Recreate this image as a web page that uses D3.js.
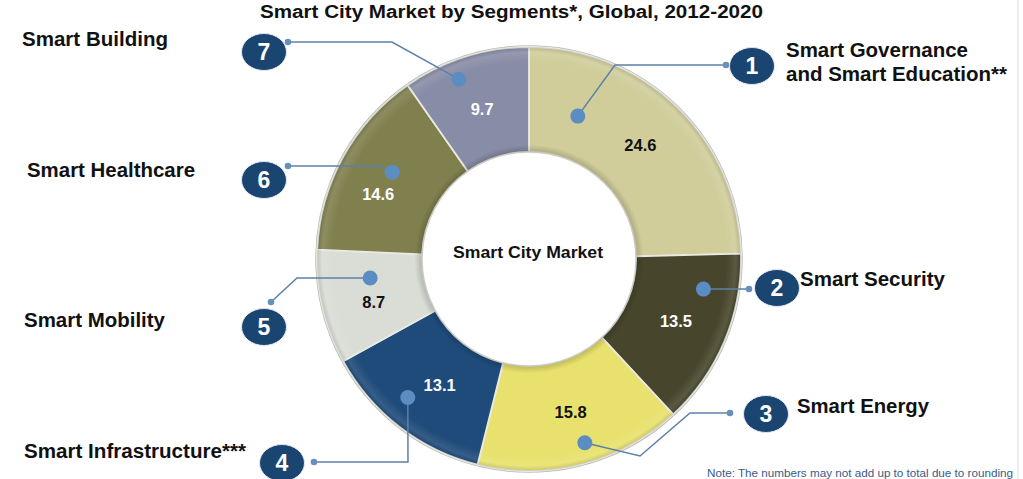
<!DOCTYPE html>
<html><head><meta charset="utf-8">
<script src="https://cdn.jsdelivr.net/npm/d3@7"></script>
<style>html,body{margin:0;padding:0;background:#fff;overflow:hidden}</style>
</head><body>
<svg id="chart" width="1023" height="479"></svg>
<script>
// ---- data ----
const segmentNames = ["Smart Governance and Smart Education**", "Smart Security", "Smart Energy", "Smart Infrastructure***", "Smart Mobility", "Smart Healthcare", "Smart Building"];
const segmentValues = [24.6, 13.5, 15.8, 13.1, 8.7, 14.6, 9.7];
const badgeLabels = ["1", "2", "3", "4", "5", "6", "7"];
const segmentColors = ["#d0cd9a", "#47462c", "#e8e16d", "#1f4b7a", "#d9ddd6", "#80804f", "#888da7"];
const valueTextColors = ["#111", "#fff", "#111", "#fff", "#111", "#fff", "#fff"];
const titleText = "Smart City Market by Segments*, Global, 2012-2020";
const centerText = "Smart City Market";

// ---- layout (annotation placement) ----
const cx = 529, cy = 259, rOuter = 212, rInner = 107;
// small nudges of the value labels from the slice centroid
const valueNudge = [[0, 0], [0, 0], [2, -1], [8, 0], [0, 7], [-11, 12], [1, 2]];
// dot: fraction of the slice angle and radius; path: elbow points; badge center; label lines
const callouts = [
  {f: 0.213, r: 151, path: [[615, 65], [726, 65]], badge: [752, 66],
   label: [{t: "Smart Governance", x: 786, y: 57, w: 182}, {t: "and Smart Education**", x: 786, y: 81, w: 221}]},
  {f: 0.231, r: 177, path: [[749, 289]], badge: [777, 288],
   label: [{t: "Smart Security", x: 800, y: 286, w: 145}]},
  {f: 0.456, r: 192, path: [[640, 456], [690, 413], [730, 413]], badge: [766, 414],
   label: [{t: "Smart Energy", x: 797, y: 413, w: 132}]},
  {f: 0.576, r: 184, path: [[408, 462], [314, 462]], badge: [282, 463],
   label: [{t: "Smart Infrastructure***", x: 24, y: 458, w: 222}]},
  {f: 0.702, r: 160, path: [[297, 278], [271, 302]], badge: [264, 327],
   label: [{t: "Smart Mobility", x: 24, y: 327, w: 141}]},
  {f: 0.569, r: 162, path: [[378, 166], [288, 166]], badge: [264, 180],
   label: [{t: "Smart Healthcare", x: 27, y: 177, w: 168}]},
  {f: 0.39, r: 193, path: [[392, 42], [288, 42]], badge: [264, 52],
   label: [{t: "Smart Building", x: 22, y: 46, w: 146}]}
];

const svg = d3.select("#chart");
const font = "Liberation Sans, Arial, Helvetica, sans-serif";

// right slide edge line
svg.append("line").attr("x1", 1018).attr("x2", 1018).attr("y1", 0).attr("y2", 479)
  .attr("stroke", "#e8e8e8").attr("stroke-width", 1.5);

// title
svg.append("text").attr("x", 260).attr("y", 18).text(titleText)
  .attr("font-family", font).attr("font-weight", "bold").attr("font-size", 18)
  .attr("textLength", 503).attr("lengthAdjust", "spacingAndGlyphs").attr("fill", "#111");

const defs = svg.append("defs");
const shade = defs.append("radialGradient").attr("id", "shade")
  .attr("gradientUnits", "userSpaceOnUse").attr("cx", 0).attr("cy", 0).attr("r", rOuter);
[[0.50, "rgba(0,0,0,0.20)"], [0.54, "rgba(0,0,0,0)"], [0.93, "rgba(255,255,255,0)"], [0.975, "rgba(255,255,255,0.10)"], [1.0, "rgba(0,0,0,0.12)"]]
  .forEach(([o, c]) => shade.append("stop").attr("offset", o).attr("stop-color", c));

const pie = d3.pie().sort(null).value(d => d);
const arcs = pie(segmentValues);
const arc = d3.arc().innerRadius(rInner).outerRadius(rOuter);

const g = svg.append("g").attr("transform", `translate(${cx},${cy})`);
g.append("circle").attr("r", rOuter + 1).attr("fill", "none").attr("stroke", "#bdbdb4").attr("stroke-width", 1.5);
g.selectAll("path.seg").data(arcs).join("path").attr("class", "seg")
  .attr("d", arc).attr("fill", (d, i) => segmentColors[i])
  .attr("stroke", "#e9e9e4").attr("stroke-width", 1.8);
g.append("path").attr("d", d3.arc().innerRadius(rInner).outerRadius(rOuter).startAngle(0).endAngle(2 * Math.PI)())
  .attr("fill", "url(#shade)").style("pointer-events", "none");
g.append("circle").attr("r", rInner).attr("fill", "none").attr("stroke", "#c9c9c0").attr("stroke-width", 1);

// value labels
g.selectAll("text.val").data(arcs).join("text").attr("class", "val")
  .attr("x", (d, i) => arc.centroid(d)[0] + valueNudge[i][0])
  .attr("y", (d, i) => arc.centroid(d)[1] + 6 + valueNudge[i][1])
  .attr("text-anchor", "middle").attr("font-family", font).attr("font-weight", "bold")
  .attr("font-size", 16.5).attr("fill", (d, i) => valueTextColors[i])
  .text(d => d.data.toFixed(1));

// center text
svg.append("text").attr("x", 453).attr("y", 258).text(centerText)
  .attr("font-family", font).attr("font-weight", "bold").attr("font-size", 16)
  .attr("textLength", 150).attr("lengthAdjust", "spacingAndGlyphs").attr("fill", "#111");

// callouts
const lineColor = "#5d80a8";
arcs.forEach((d, i) => {
  const c = callouts[i];
  const a = d.startAngle + c.f * (d.endAngle - d.startAngle);
  const dot = [cx + c.r * Math.sin(a), cy - c.r * Math.cos(a)];
  const pts = [dot].concat(c.path);
  svg.append("path").attr("d", d3.line()(pts)).attr("fill", "none")
    .attr("stroke", lineColor).attr("stroke-width", 1.5);
  svg.append("circle").attr("cx", dot[0]).attr("cy", dot[1]).attr("r", 7.5).attr("fill", "#5b8dc2");
  const end = c.path[c.path.length - 1];
  svg.append("circle").attr("cx", end[0]).attr("cy", end[1]).attr("r", 3.3).attr("fill", "#6a8fba");
  svg.append("ellipse").attr("cx", c.badge[0]).attr("cy", c.badge[1]).attr("rx", 22.5).attr("ry", 18.5)
    .attr("fill", "#1b4571").attr("stroke", "#dfe6ee").attr("stroke-width", 1);
  svg.append("text").attr("x", c.badge[0]).attr("y", c.badge[1] + 8).attr("text-anchor", "middle")
    .attr("font-family", font).attr("font-weight", "bold").attr("font-size", 23).attr("fill", "#fff")
    .text(badgeLabels[i]);
  c.label.forEach(l => {
    svg.append("text").attr("x", l.x).attr("y", l.y).text(l.t)
      .attr("font-family", font).attr("font-weight", "bold").attr("font-size", 19.5)
      .attr("textLength", l.w).attr("lengthAdjust", "spacingAndGlyphs").attr("fill", "#111");
  });
});

// note at the bottom edge
svg.append("text").attr("x", 707).attr("y", 477)
  .text("Note: The numbers may not add up to total due to rounding")
  .attr("font-family", font).attr("font-size", 11).attr("fill", "#3a5a88")
  .attr("textLength", 306).attr("lengthAdjust", "spacingAndGlyphs");
</script>
</body></html>
